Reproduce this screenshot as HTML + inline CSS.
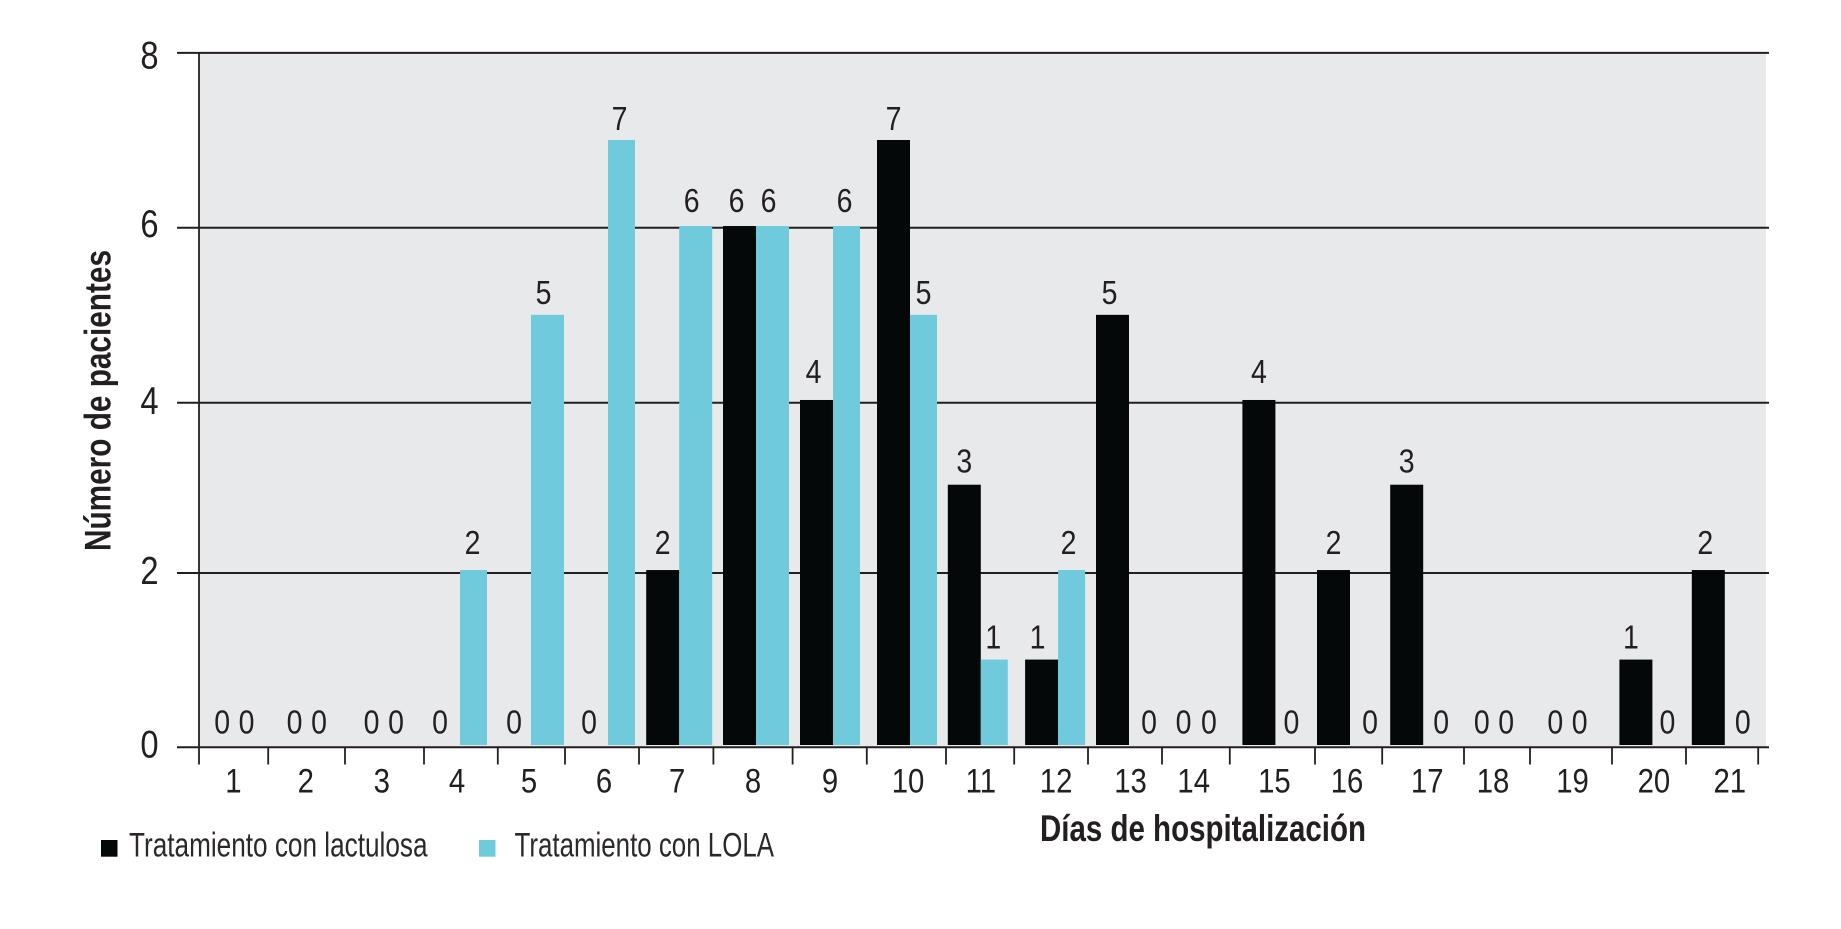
<!DOCTYPE html>
<html lang="es">
<head>
<meta charset="utf-8">
<title>Días de hospitalización</title>
<style>
  html, body { margin: 0; padding: 0; background: #fff; }
  svg { display: block; font-family: "Liberation Sans", sans-serif; }
</style>
</head>
<body>
<svg id="chart" xmlns="http://www.w3.org/2000/svg" width="1841" height="929" viewBox="0 0 1841 929">
  <rect x="199" y="53" width="1567" height="694" fill="#e8e9eb"/>
  <g id="grid"></g>
  <g id="bars"></g>
  <g id="values"></g>
  <g id="xaxis"></g>
  <g id="yaxis"></g>
  <text transform="translate(110.5,551) rotate(-90)" font-size="37" font-weight="700" fill="#231f20" textLength="301" lengthAdjust="spacingAndGlyphs">Número de pacientes</text>
  <text x="1040" y="841" font-size="37" font-weight="700" fill="#231f20" textLength="326" lengthAdjust="spacingAndGlyphs">Días de hospitalización</text>
  <g>
    <rect x="101" y="840" width="16.5" height="16.7" fill="#040808"/>
    <text x="129" y="856.7" font-size="34" fill="#2c2829" textLength="298.5" lengthAdjust="spacingAndGlyphs">Tratamiento con lactulosa</text>
    <rect x="479" y="840" width="16.5" height="16.7" fill="#6fcbdc"/>
    <text x="514.5" y="856.7" font-size="34" fill="#2c2829" textLength="259.5" lengthAdjust="spacingAndGlyphs">Tratamiento con LOLA</text>
  </g>
</svg>
<script>
// Chart data
const categories = [1,2,3,4,5,6,7,8,9,10,11,12,13,14,15,16,17,18,19,20,21];
const lactulosa  = [0,0,0,0,0,0,2,6,4,7,3,1,5,0,4,2,3,0,0,1,2];
const lola       = [0,0,0,2,5,7,6,6,6,5,1,2,0,0,0,0,0,0,0,0,0];
const yTickLabels = [0,2,4,6,8];

// Scale calibration: the original axes are hand-spaced, so each linear scale carries a small drift
const bandDrift = [-2.4,-4.4,-1.8,0,-3.4,-0.8,-4,-1.6,1,3.6,0,2.9,-0.6,-7.3,-3,-2.8,-4,-7.6,-8.5,2,0];
const tickDrift = [0,-5,-2.4,2.4,2,-5,-5.2,-5,0,0,5,-1,-1.4,-1.6,-8,3,-4,3.6,-4.6,3.2,3,1];
const catLabelDrift = [1,1,0,-1,0,-2,0,-1,-1,0,2,0,3.5,-1,1,-1,6,1,7,3.5,7];
const seriesALabelDrift = [0,0,0,-2,1,-1,2,-1,-1,2,2,-2,-1,-1,2,2,2,0,0,-3,-1];
const seriesBLabelDrift = [0,0,0,1,-2,0,-2,-2,0,2,1,-1,2,0,-2,2,0,0,0,-3,0];
const gridDrift = { 0: 0, 2: -0.7, 4: 2.7, 6: 1.2, 8: 0 };
const yLabelDrop = { 0: 10.4, 2: 11, 4: 11.3, 6: 9.3, 8: 15.4 };
const barTopDrift = { 1: 1, 2: -2.1, 3: -1, 4: 0.7, 5: 2, 6: -0.4, 7: 0 };
const labelGap  = { 1: 11, 2: 16, 3: 12, 4: 17, 5: 11, 6: 14, 7: 10 };
const narrowLola = [4,6,9,10,11,12];

const NS = 'http://www.w3.org/2000/svg';
const BLACK = '#040808', TEAL = '#6fcbdc', INK = '#231f20';
const BAR_W = 33, BAR_W_NARROW = 27;

// Axis functions
function seamX(i) { return 236.8 + 74.4 * i + bandDrift[i]; }
function tickX(k) { return 199 + 74.2 * k + tickDrift[k]; }
function barY(v)  { return 745 - 86.43 * v + (barTopDrift[v] || 0); }
function gridY(t) { return 747.3 - 86.8 * t + gridDrift[t]; }

function make(tag, attrs, parent, txt) {
  const el = document.createElementNS(NS, tag);
  for (const k in attrs) el.setAttribute(k, attrs[k]);
  if (txt !== undefined) el.textContent = txt;
  parent.appendChild(el);
  return el;
}
function digitAttrs(x, y, size) {
  return { transform: 'translate(' + x + ',' + y + ') scale(.85,1)', 'text-anchor': 'middle', 'font-size': size, fill: INK };
}

const gGrid = document.getElementById('grid');
const gBars = document.getElementById('bars');
const gVals = document.getElementById('values');
const gX = document.getElementById('xaxis');
const gY = document.getElementById('yaxis');

// Horizontal grid lines and y tick labels
yTickLabels.forEach(function (t) {
  const line = make('line', { x1: 177, x2: 1769, y1: gridY(t), y2: gridY(t), stroke: INK, 'stroke-width': 2 }, t === 0 ? gX : gGrid);
  
  
  const lab = make('text', digitAttrs(149.5, gridY(t) + yLabelDrop[t], 38.5), gY, String(t));
  
  
});

// Vertical axis line
const yLine = make('line', { x1: 199, x2: 199, y1: 52, y2: 764.5, stroke: INK, 'stroke-width': 1.8 }, gY);



// X ticks
for (let k = 1; k <= categories.length; k++) {
  const tick = make('line', { x1: tickX(k), x2: tickX(k), y1: 747, y2: 764.5, stroke: INK, 'stroke-width': 1.8 }, gX);
  
  
}

// Bars and labels
categories.forEach(function (c, i) {
  const seam = seamX(i);
  const a = lactulosa[i], b = lola[i];
  const tealW = narrowLola.indexOf(c) >= 0 ? BAR_W_NARROW : BAR_W;

  const tl = make('text', digitAttrs(seam - 2 + catLabelDrift[i], 792.7, 34.5), gX, String(c));
  
  

  if (a > 0) {
    const r = make('rect', { x: seam - BAR_W, y: barY(a), width: BAR_W, height: barY(0) - barY(a), fill: BLACK }, gBars);
    
    
  }
  if (b > 0) {
    const r = make('rect', { x: seam, y: barY(b), width: tealW, height: barY(0) - barY(b), fill: TEAL }, gBars);
    
    
  }

  const bothZero = a === 0 && b === 0;
  const lx = (a > 0 ? seam - BAR_W / 2 - 2 : seam - (bothZero ? 12.2 : 18)) + seriesALabelDrift[i];
  const ly = a > 0 ? barY(a) - (labelGap[a] || 12) : 733.3;
  const vA = make('text', digitAttrs(lx, ly, 33.5), gVals, String(a));
  
  

  const rx = (b > 0 ? seam + tealW / 2 - 2 : seam + (bothZero ? 12.2 : 18)) + seriesBLabelDrift[i];
  const ry = b > 0 ? barY(b) - (labelGap[b] || 12) : 733.3;
  const vB = make('text', digitAttrs(rx, ry, 33.5), gVals, String(b));
  
  
});
</script>
</body>
</html>
